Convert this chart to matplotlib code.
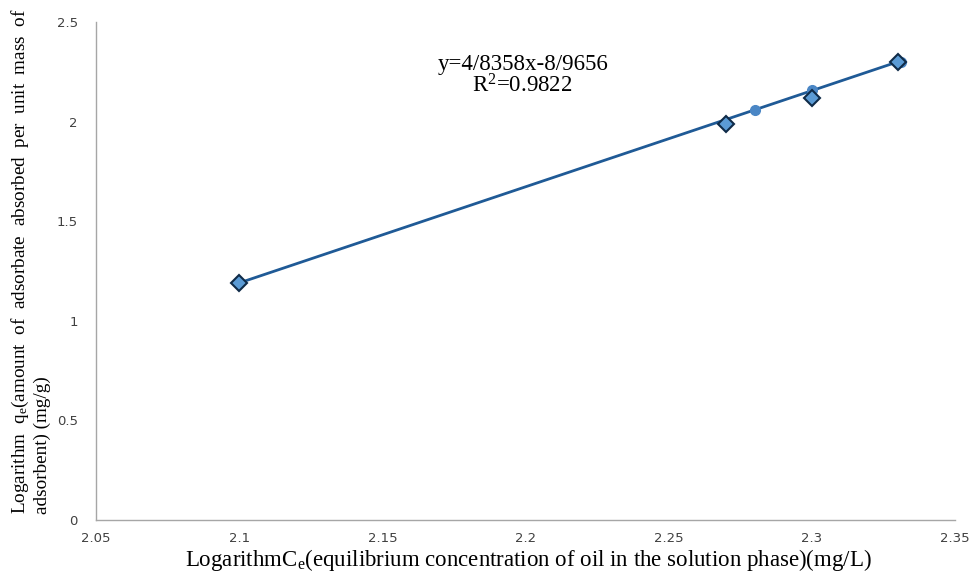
import matplotlib
matplotlib.use("Agg")
import matplotlib.pyplot as plt

# data
x_measured = [2.10, 2.27, 2.30, 2.33]
y_measured = [1.19, 1.99, 2.12, 2.30]
x_fitted = [2.28, 2.30, 2.331]
y_fitted = [2.06, 2.16, 2.30]
line_x = [2.10, 2.33]
line_y = [1.19, 2.30]
x_ticks = [2.05, 2.1, 2.15, 2.2, 2.25, 2.3, 2.35]
x_tick_labels = ["2.05", "2.1", "2.15", "2.2", "2.25", "2.3", "2.35"]
y_ticks = [0, 0.5, 1, 1.5, 2, 2.5]
y_tick_labels = ["0", "0.5", "1", "1.5", "2", "2.5"]
equation = "y=4/8358x-8/9656"
r2_text = r"R$\mathregular{^2}$=0.9822"

plt.rcParams["mathtext.fontset"] = "custom"
plt.rcParams["mathtext.rm"] = "Liberation Serif"

fig = plt.figure(figsize=(9.71, 5.73), dpi=100)
ax = fig.add_axes([96/971, 53/573, (955-96)/971, (520-22)/573])

ax.plot(line_x, line_y, color="#1F5A96", lw=2, zorder=2)
ax.plot(x_fitted, y_fitted, ls="none", marker="o", ms=7, color="#4A86C5",
        mec="#4A86C5", zorder=3)
ax.plot(x_measured, y_measured, ls="none", marker="D", ms=8,
        mfc="#5B9BD5", mec="#0F2B48", mew=1.5, zorder=4)

ax.set_xlim(2.05, 2.35)
ax.set_ylim(0, 2.5)
ax.set_xticks(x_ticks)
ax.set_xticklabels(x_tick_labels)
ax.set_yticks(y_ticks)
ax.set_yticklabels(y_tick_labels)
ax.tick_params(length=0, labelsize=9.5, colors="#404040", pad=9)
ax.tick_params(axis="y", pad=13)
for s in ["top", "right"]:
    ax.spines[s].set_visible(False)
for s in ["left", "bottom"]:
    ax.spines[s].set_color("#A6A6A6")
    ax.spines[s].set_linewidth(1)

ax.text(2.199, 2.285, equation, ha="center", va="center",
        family="Liberation Serif", fontsize=16.5)
ax.text(2.199, 2.18, r2_text, ha="center", va="center",
        family="Liberation Serif", fontsize=16.5)

fig.text(528/971, 1 - 560/573,
         r"LogarithmC$\mathregular{_e}$(equilibrium concentration of oil in the solution phase)(mg/L)",
         ha="center", va="center", family="Liberation Serif", fontsize=16.5)

fig.text(20/971, 1 - 514/573,
         r"Logarithm  q$\mathregular{_e}$(amount  of  adsorbate  absorbed  per  unit  mass  of",
         rotation=90, ha="center", va="bottom", family="Liberation Serif", fontsize=13.8)
fig.text(42/971, 1 - 514/573, "adsorbent) (mg/g)",
         rotation=90, ha="center", va="bottom", family="Liberation Serif", fontsize=13.8)

fig.savefig("out.png", dpi=100)
